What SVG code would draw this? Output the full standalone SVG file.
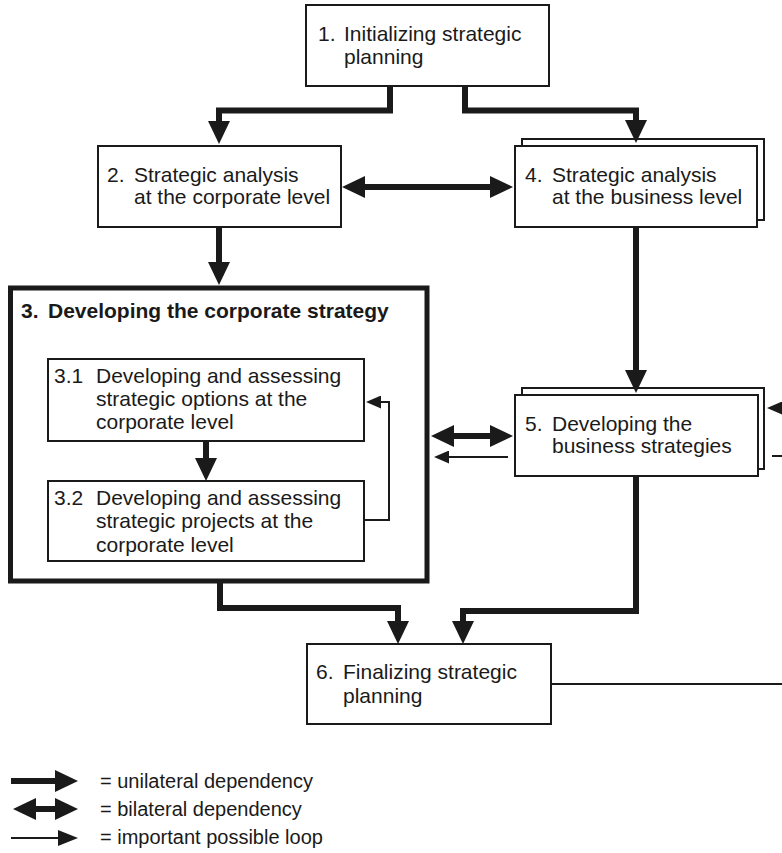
<svg xmlns="http://www.w3.org/2000/svg" width="782" height="853" viewBox="0 0 782 853">
  <style>
    .box { fill: #ffffff; stroke: #1a1a1a; stroke-width: 2; }
    .main { fill: #ffffff; stroke: #1a1a1a; stroke-width: 5; }
    .t { font-family: "Liberation Sans", Arial, sans-serif; font-size: 21px; fill: #1a1a1a; }
    .tb { font-family: "Liberation Sans", Arial, sans-serif; font-size: 21px; font-weight: bold; fill: #1a1a1a; }
    .lg { font-family: "Liberation Sans", Arial, sans-serif; font-size: 20px; fill: #1a1a1a; }
    .thick { fill: none; stroke: #1a1a1a; stroke-width: 6; stroke-linejoin: miter; }
    .thin { fill: none; stroke: #1a1a1a; stroke-width: 2; stroke-linejoin: miter; }
  </style>
  <defs>
    <marker id="headThick" markerUnits="userSpaceOnUse" markerWidth="23" markerHeight="22" refX="1" refY="11" orient="auto-start-reverse" viewBox="0 0 23 22">
      <path d="M0,0 L23,11 L0,22 Z" fill="#1a1a1a"/>
    </marker>
    <marker id="headThin" markerUnits="userSpaceOnUse" markerWidth="15" markerHeight="13" refX="1" refY="6.5" orient="auto" viewBox="0 0 15 13">
      <path d="M0,0 L15,6.5 L0,13 Z" fill="#1a1a1a"/>
    </marker>
    <marker id="headThinKey" markerUnits="userSpaceOnUse" markerWidth="20" markerHeight="16" refX="1" refY="8" orient="auto" viewBox="0 0 20 16">
      <path d="M0,0 L20,8 L0,16 Z" fill="#1a1a1a"/>
    </marker>
  </defs>

  <!-- nodes -->
  <g id="node-1">
    <rect class="box" x="306" y="5" width="243" height="81"/>
    <text class="t" x="318" y="41">1.</text>
    <text class="t" x="344" y="41">Initializing strategic</text>
    <text class="t" x="344" y="64">planning</text>
  </g>

  <g id="node-2">
    <rect class="box" x="98" y="146" width="243" height="81"/>
    <text class="t" x="107" y="182">2.</text>
    <text class="t" x="134" y="182">Strategic analysis</text>
    <text class="t" x="134" y="204">at the corporate level</text>
  </g>

  <g id="node-4">
    <rect class="box" x="522" y="139" width="242" height="81"/>
    <rect class="box" x="515" y="146" width="242" height="81"/>
    <text class="t" x="525" y="182">4.</text>
    <text class="t" x="552" y="182">Strategic analysis</text>
    <text class="t" x="552" y="204">at the business level</text>
  </g>

  <g id="node-3">
    <rect class="main" x="10.5" y="288" width="416.5" height="293"/>
    <text class="tb" x="21" y="318">3.</text>
    <text class="tb" x="48" y="318">Developing the corporate strategy</text>
  </g>

  <g id="node-3-1">
    <rect class="box" x="48" y="359" width="316" height="82"/>
    <text class="t" x="54" y="383">3.1</text>
    <text class="t" x="96" y="383">Developing and assessing</text>
    <text class="t" x="96" y="406">strategic options at the</text>
    <text class="t" x="96" y="429">corporate level</text>
  </g>

  <g id="node-3-2">
    <rect class="box" x="48" y="481" width="316" height="80"/>
    <text class="t" x="54" y="505">3.2</text>
    <text class="t" x="96" y="505">Developing and assessing</text>
    <text class="t" x="96" y="528">strategic projects at the</text>
    <text class="t" x="96" y="552">corporate level</text>
  </g>

  <g id="node-5">
    <rect class="box" x="522" y="388" width="242" height="81"/>
    <rect class="box" x="515" y="395" width="243" height="81"/>
    <text class="t" x="525" y="431">5.</text>
    <text class="t" x="552" y="431">Developing the</text>
    <text class="t" x="552" y="453">business strategies</text>
  </g>

  <g id="node-6">
    <rect class="box" x="307" y="644" width="244" height="80"/>
    <text class="t" x="316" y="679">6.</text>
    <text class="t" x="343" y="679">Finalizing strategic</text>
    <text class="t" x="343" y="703">planning</text>
  </g>

  <!-- connectors -->
  <g id="connectors">
    <path class="thick" d="M390,86 V110.5 H219 V122" marker-end="url(#headThick)"/>
    <path class="thick" d="M465,86 V110.5 H636 V121" marker-end="url(#headThick)"/>
    <path class="thick" d="M219,227 V263" marker-end="url(#headThick)"/>
    <path class="thick" d="M636,227 V371" marker-end="url(#headThick)"/>
    <path class="thick" d="M206,441 V459" marker-end="url(#headThick)"/>
    <path class="thick" d="M220,583 V608 H398 V622" marker-end="url(#headThick)"/>
    <path class="thick" d="M636,476 V611 H463 V622" marker-end="url(#headThick)"/>
    <path class="thick" d="M364,187 H491" marker-start="url(#headThick)" marker-end="url(#headThick)"/>
    <path class="thick" d="M453,436 H491" marker-start="url(#headThick)" marker-end="url(#headThick)"/>

    <path class="thin" d="M364,520 H389 V402 H380" marker-end="url(#headThin)"/>
    <path class="thin" d="M508,457 H448" marker-end="url(#headThin)"/>
    <path class="thin" d="M782,408 H781" marker-end="url(#headThin)"/>
    <path class="thin" d="M772,456 H782"/>
    <path class="thin" d="M551,684 H782"/>
  </g>

  <!-- key -->
  <g id="legend">
    <path class="thick" d="M11,781 H56" marker-end="url(#headThick)"/>
    <path class="thick" d="M35,809 H56" marker-start="url(#headThick)" marker-end="url(#headThick)"/>
    <path class="thin" d="M11,838 H59" marker-end="url(#headThinKey)"/>
    <text class="lg" x="100" y="788">= unilateral dependency</text>
    <text class="lg" x="100" y="816">= bilateral dependency</text>
    <text class="lg" x="100" y="844">= important possible loop</text>
  </g>
</svg>
